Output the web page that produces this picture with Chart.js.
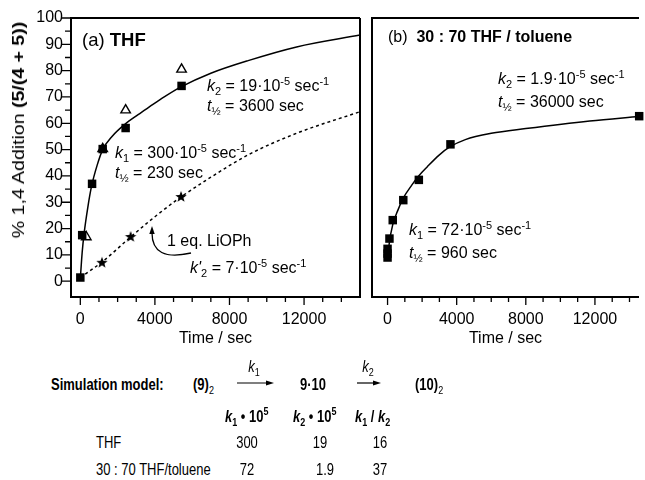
<!DOCTYPE html>
<html>
<head>
<meta charset="utf-8">
<script src="https://cdn.jsdelivr.net/npm/chart.js@4.4.1/dist/chart.umd.min.js"></script>
<style>
    body { margin: 0; width: 645px; height: 480px; background: #fff; position: relative; overflow: hidden;
           font-family: 'Liberation Sans', Arial, sans-serif; color: #000; }
    .panel { position: absolute; top: 0; }
    .t { position: absolute; white-space: nowrap; font-size: 16px; line-height: 18px; transform: translateY(-50%); }
    .t sub, .t sup { font-size: 11px; line-height: 0; }
    .s { font-size: 13px; transform: translateY(-50%) scaleY(1.2); }
    .s sub, .s sup { font-size: 9px; }
    .c { transform: translate(-50%, -50%) scaleY(1.2); }
    .ytitle { position: absolute; white-space: nowrap; font-size: 16px; line-height: 20px; left: 19px; top: 130px;
              width: 0; height: 0; }
    .ytitle span { position: absolute; left: 0; top: 0; transform: translate(-50%, -50%) rotate(-90deg) scaleX(1.22); }
    svg { position: absolute; left: 0; top: 0; }
</style>
</head>
<body>
<div class="panel" style="left:0"><canvas id="chartA" width="367" height="360"></canvas></div>
<div class="panel" style="left:366px"><canvas id="chartB" width="279" height="360"></canvas></div>

<div class="ytitle"><span>% 1,4 Addition <b>(5/(4 + 5))</b></span></div>

<!-- panel (a) -->
<div class="t" style="left:82px;top:40px;font-size:18.5px">(a) <b>THF</b></div>
<div class="t" style="left:207px;top:86px"><i>k</i><sub>2</sub> = 19·10<sup>-5</sup> sec<sup>-1</sup></div>
<div class="t" style="left:207px;top:106px"><i>t</i><sub>½</sub> = 3600 sec</div>
<div class="t" style="left:115px;top:153px"><i>k</i><sub>1</sub> = 300·10<sup>-5</sup> sec<sup>-1</sup></div>
<div class="t" style="left:115px;top:173px"><i>t</i><sub>½</sub> = 230 sec</div>
<div class="t" style="left:167px;top:241px">1 eq. LiOPh</div>
<div class="t" style="left:190px;top:268px"><i>k'</i><sub>2</sub> = 7·10<sup>-5</sup> sec<sup>-1</sup></div>

<!-- panel (b) -->
<div class="t" style="left:388px;top:37px">(b)&nbsp; <b>30 : 70 THF / toluene</b></div>
<div class="t" style="left:498px;top:79px"><i>k</i><sub>2</sub> = 1.9·10<sup>-5</sup> sec<sup>-1</sup></div>
<div class="t" style="left:498px;top:102px"><i>t</i><sub>½</sub> = 36000 sec</div>
<div class="t" style="left:409px;top:230px"><i>k</i><sub>1</sub> = 72·10<sup>-5</sup> sec<sup>-1</sup></div>
<div class="t" style="left:409px;top:253px"><i>t</i><sub>½</sub> = 960 sec</div>

<!-- simulation model -->
<div class="t s" style="left:51px;top:385px"><b>Simulation model:</b></div>
<div class="t s" style="left:193px;top:385px"><b>(9)</b><sub>2</sub></div>
<div class="t s c" style="left:254px;top:367px"><i>k</i><sub>1</sub></div>
<div class="t s" style="left:300px;top:385px"><b>9·10</b></div>
<div class="t s c" style="left:368px;top:367px"><i>k</i><sub>2</sub></div>
<div class="t s" style="left:415px;top:385px"><b>(10)</b><sub>2</sub></div>

<div class="t s" style="left:225px;top:417px"><b><i>k</i><sub>1</sub> • 10<sup>5</sup></b></div>
<div class="t s" style="left:293px;top:417px"><b><i>k</i><sub>2</sub> • 10<sup>5</sup></b></div>
<div class="t s" style="left:355px;top:417px"><b><i>k</i><sub>1</sub> / <i>k</i><sub>2</sub></b></div>
<div id="table"></div>

<svg width="645" height="480">
    <path d="M191,253 Q152,262 152,233" fill="none" stroke="#000" stroke-width="1.3"/>
    <polygon points="152,226 149.3,234 154.7,234" fill="#000"/>
    <line x1="237" y1="383" x2="270" y2="383" stroke="#000" stroke-width="1.2"/>
    <polygon points="274,383 266,380.5 266,385.5" fill="#000"/>
    <line x1="357" y1="383" x2="377" y2="383" stroke="#000" stroke-width="1.2"/>
    <polygon points="381,383 373,380.5 373,385.5" fill="#000"/>
</svg>

<script>
// (a) THF — filled squares
const thfSqTime = [0, 100, 630, 1200, 2430, 5430];
const thfSqPct = [1.4, 17.5, 37, 50.2, 58.2, 74.2];
// (a) THF — open triangles
const thfTriTime = [320, 1200, 2430, 5430];
const thfTriPct = [16.8, 50.3, 65, 80.5];
// (a) 1 eq. LiOPh — stars
const lioTime = [1160, 2700, 5400];
const lioPct = [7, 16.8, 32];
// (a) fitted curves
const thfFitTime = [0, 100, 200, 400, 600, 900, 1200, 1700, 2400, 3100, 3700, 4500, 5400, 7000, 9000, 11600, 15000];
const thfFitPct = [1, 11, 18, 28, 36, 44, 50, 55, 59.7, 63.3, 66.2, 70, 73.8, 79, 83.8, 89, 93.5];
const lioFitTime = [0, 1200, 2700, 4000, 5400, 7000, 9000, 11600, 15000];
const lioFitPct = [1.4, 7.5, 16.8, 24.5, 32, 39.5, 48, 56.2, 64.4];

// (b) 30:70 THF/toluene
const tolSqTime = [0, 0, 0, 110, 300, 910, 1810, 3640, 14560];
const tolSqPct = [9, 10.5, 12.3, 16.2, 23.2, 30.8, 38.5, 52, 62.7];
const tolFitTime = [0, 100, 300, 600, 900, 1400, 1800, 2300, 3000, 3600, 4500, 6000, 8000, 11700, 14550];
const tolFitPct = [8, 14.5, 21.5, 27, 31.5, 36.5, 40, 43.5, 48, 51, 53.8, 56.2, 58, 60.9, 62.6];

// axis ticks
const xMajor = [0, 4000, 8000, 12000];
const xLabels = ['0', '4000', '8000', '12000'];
const xMinor = [1000, 2000, 3000, 5000, 6000, 7000, 9000, 10000, 11000, 13000, 14000];
const yMajor = [0, 10, 20, 30, 40, 50, 60, 70, 80, 90, 100];
const yMinor = [5, 15, 25, 35, 45, 55, 65, 75, 85, 95];

// table
const solvents = ['THF', '30 : 70 THF/toluene'];
const k1Vals = ['300', '72'];
const k2Vals = ['19', '1.9'];
const ratioVals = ['16', '37'];

const pts = (xs, ys) => xs.map((x, i) => ({ x: x, y: ys[i] }));

function makeStar(r) {
    const c = document.createElement('canvas');
    c.width = c.height = Math.ceil(r * 2) + 2;
    const g = c.getContext('2d');
    g.translate(c.width / 2, c.height / 2);
    g.beginPath();
    for (let i = 0; i < 10; i++) {
        const rad = i % 2 ? r * 0.42 : r;
        const a = -Math.PI / 2 + i * Math.PI / 5;
        g.lineTo(rad * Math.cos(a), rad * Math.sin(a));
    }
    g.closePath();
    g.fillStyle = '#000';
    g.fill();
    return c;
}

// box frame and outside tick marks
const framePlugin = {
    id: 'frame',
    afterDatasetsDraw(chart, args, opts) {
        const { ctx, chartArea: a, scales: { x, y } } = chart;
        ctx.save();
        ctx.strokeStyle = '#000';
        ctx.lineWidth = 2;
        ctx.beginPath();
        ctx.moveTo(a.right, a.top);
        ctx.lineTo(a.left, a.top);
        ctx.lineTo(a.left, a.bottom);
        ctx.lineTo(a.right, a.bottom);
        if (opts.right) ctx.lineTo(a.right, a.top);
        ctx.stroke();
        ctx.lineWidth = 1.3;
        ctx.beginPath();
        xMajor.forEach(v => { const p = x.getPixelForValue(v); ctx.moveTo(p, a.bottom); ctx.lineTo(p, a.bottom + 8); });
        xMinor.forEach(v => { const p = x.getPixelForValue(v); ctx.moveTo(p, a.bottom); ctx.lineTo(p, a.bottom + 5); });
        if (opts.yTicks) {
            yMajor.forEach(v => { const p = y.getPixelForValue(v); ctx.moveTo(a.left, p); ctx.lineTo(a.left - 9, p); });
            yMinor.forEach(v => { const p = y.getPixelForValue(v); ctx.moveTo(a.left, p); ctx.lineTo(a.left - 6, p); });
        }
        ctx.stroke();
        ctx.restore();
    }
};

Chart.defaults.font.family = "'Liberation Sans', Arial, sans-serif";
Chart.defaults.color = '#000';

const star = makeStar(6);
const square = { pointStyle: 'rect', pointRadius: 6, backgroundColor: '#000', borderColor: '#000', borderWidth: 0 };
const curve = { showLine: true, pointRadius: 0, borderColor: '#000', borderWidth: 1.5, cubicInterpolationMode: 'monotone' };

function xScale(min, max) {
    return {
        type: 'linear', min: min, max: max,
        afterBuildTicks: s => { s.ticks = xMajor.map(v => ({ value: v })); },
        afterFit: s => { s.height = 63; },
        grid: { display: false }, border: { display: false },
        ticks: { font: { size: 16 }, padding: 5, maxRotation: 0, autoSkip: false,
                 callback: v => xLabels[xMajor.indexOf(v)] },
        title: { display: true, text: 'Time / sec', font: { size: 16 }, padding: { top: 0, bottom: 12 } }
    };
}

new Chart(document.getElementById('chartA'), {
    type: 'scatter',
    data: {
        datasets: [
            Object.assign({ data: pts(thfSqTime, thfSqPct), order: 0 }, square),
            { data: pts(thfTriTime, thfTriPct), order: 1, pointStyle: 'triangle', pointRadius: 5.5,
              backgroundColor: '#fff', borderColor: '#000', borderWidth: 1.4 },
            { data: pts(lioTime, lioPct), order: 1, pointStyle: star, pointRadius: 6 },
            Object.assign({ data: pts(thfFitTime, thfFitPct), order: 2 }, curve),
            Object.assign({ data: pts(lioFitTime, lioFitPct), order: 2, borderDash: [3, 3] }, curve)
        ]
    },
    options: {
        responsive: false,
        animation: false,
        layout: { padding: { top: 18, right: 2.5, left: 0, bottom: 0 } },
        plugins: { legend: { display: false }, tooltip: { enabled: false }, frame: { right: true, yTicks: true } },
        scales: {
            x: xScale(-500, 15000),
            y: {
                type: 'linear', min: -6, max: 100,
                afterBuildTicks: s => { s.ticks = yMajor.map(v => ({ value: v })); },
                afterFit: s => { s.width = 71; },
                grid: { display: false }, border: { display: false },
                ticks: { font: { size: 16 }, padding: 0 }
            }
        }
    },
    plugins: [framePlugin]
});

new Chart(document.getElementById('chartB'), {
    type: 'scatter',
    data: {
        datasets: [
            Object.assign({ data: pts(tolSqTime, tolSqPct), order: 0, clip: false }, square),
            Object.assign({ data: pts(tolFitTime, tolFitPct), order: 1 }, curve)
        ]
    },
    options: {
        responsive: false,
        animation: false,
        layout: { padding: { top: 18, right: 0, left: 3, bottom: 0 } },
        plugins: { legend: { display: false }, tooltip: { enabled: false }, frame: { right: false, yTicks: false } },
        scales: {
            x: xScale(-900, 14550),
            y: { type: 'linear', min: -6, max: 100, display: false }
        }
    },
    plugins: [framePlugin]
});

// simulation results table
const rowY = [443, 470];
document.getElementById('table').innerHTML = solvents.map((s, i) => `
    <div class="t s" style="left:96px;top:${rowY[i]}px">${s}</div>
    <div class="t s c" style="left:247px;top:${rowY[i]}px">${k1Vals[i]}</div>
    <div class="t s c" style="left:${i ? 325 : 320}px;top:${rowY[i]}px">${k2Vals[i]}</div>
    <div class="t s c" style="left:380px;top:${rowY[i]}px">${ratioVals[i]}</div>
`).join('');
</script>
</body>
</html>
